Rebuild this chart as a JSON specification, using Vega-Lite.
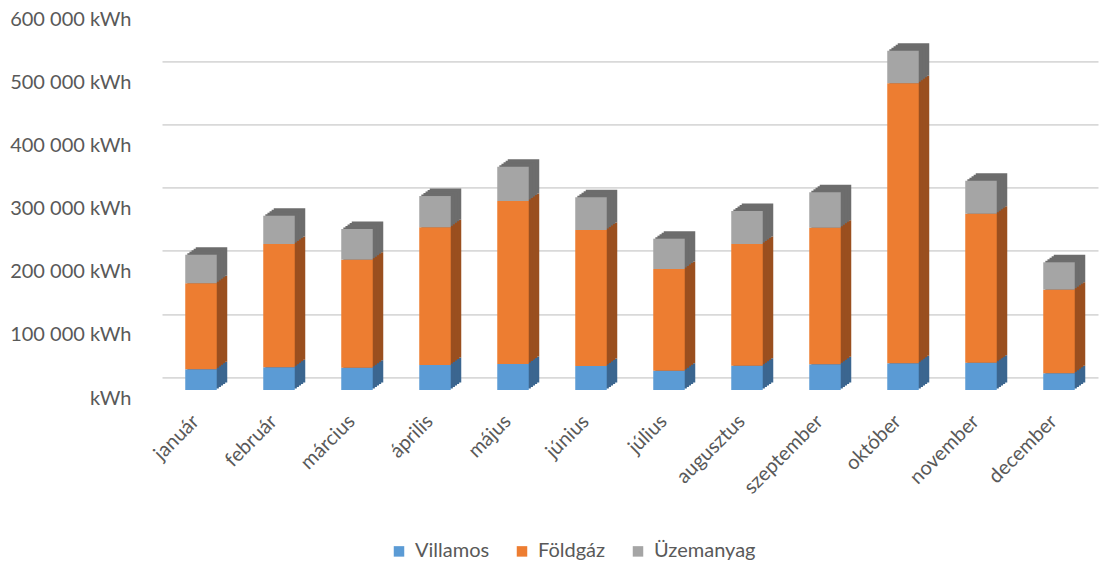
{
  "$schema": "https://vega.github.io/schema/vega-lite/v6.json",
  "autosize": "none",
  "width": 936,
  "height": 378.6,
  "padding": {"left": 162, "top": 11.4, "right": 12, "bottom": 178},
  "background": "white",
  "config": {
    "font": "Lato",
    "view": {"stroke": null},
    "axis": {"labelFont": "Lato", "labelColor": "#595959", "labelFontSize": 20}
  },
  "data": {
    "values": [
      {"month": "január", "type": "Villamos", "value": 32800},
      {"month": "január", "type": "Földgáz", "value": 136300},
      {"month": "január", "type": "Üzemanyag", "value": 45300},
      {"month": "február", "type": "Villamos", "value": 36000},
      {"month": "február", "type": "Földgáz", "value": 195400},
      {"month": "február", "type": "Üzemanyag", "value": 44800},
      {"month": "március", "type": "Villamos", "value": 35300},
      {"month": "március", "type": "Földgáz", "value": 171200},
      {"month": "március", "type": "Üzemanyag", "value": 48700},
      {"month": "április", "type": "Villamos", "value": 39600},
      {"month": "április", "type": "Földgáz", "value": 218200},
      {"month": "április", "type": "Üzemanyag", "value": 49600},
      {"month": "május", "type": "Villamos", "value": 41200},
      {"month": "május", "type": "Földgáz", "value": 258300},
      {"month": "május", "type": "Üzemanyag", "value": 54400},
      {"month": "június", "type": "Villamos", "value": 38000},
      {"month": "június", "type": "Földgáz", "value": 215600},
      {"month": "június", "type": "Üzemanyag", "value": 51800},
      {"month": "július", "type": "Villamos", "value": 30600},
      {"month": "július", "type": "Földgáz", "value": 161200},
      {"month": "július", "type": "Üzemanyag", "value": 48000},
      {"month": "augusztus", "type": "Villamos", "value": 38500},
      {"month": "augusztus", "type": "Földgáz", "value": 192900},
      {"month": "augusztus", "type": "Üzemanyag", "value": 52300},
      {"month": "szeptember", "type": "Villamos", "value": 40700},
      {"month": "szeptember", "type": "Földgáz", "value": 216500},
      {"month": "szeptember", "type": "Üzemanyag", "value": 56100},
      {"month": "október", "type": "Villamos", "value": 42300},
      {"month": "október", "type": "Földgáz", "value": 443800},
      {"month": "október", "type": "Üzemanyag", "value": 51600},
      {"month": "november", "type": "Villamos", "value": 43300},
      {"month": "november", "type": "Földgáz", "value": 236100},
      {"month": "november", "type": "Üzemanyag", "value": 52300},
      {"month": "december", "type": "Villamos", "value": 26500},
      {"month": "december", "type": "Földgáz", "value": 132500},
      {"month": "december", "type": "Üzemanyag", "value": 43400}
    ]
  },
  "transform": [
    {"calculate": "indexof(['Villamos','Földgáz','Üzemanyag'], datum.type)", "as": "ord"},
    {"stack": "value", "groupby": ["month"], "sort": [{"field": "ord", "order": "ascending"}], "as": ["v0", "v1"]}
  ],
  "encoding": {
    "x": {
      "field": "month", "type": "nominal",
      "sort": ["január","február","március","április","május","június","július","augusztus","szeptember","október","november","december"],
      "scale": {"paddingInner": 0, "paddingOuter": 0},
      "axis": {"title": null, "domain": false, "ticks": false, "labelAngle": -45, "labelAlign": "right", "labelBaseline": "middle", "labelPadding": 28, "labelOffset": -5}
    },
    "y": {
      "field": "v0", "type": "quantitative",
      "scale": {"domain": [0, 600000], "nice": false, "zero": true},
      "axis": {"title": null, "domain": false, "ticks": false, "values": [0,100000,200000,300000,400000,500000,600000],
        "labelExpr": "datum.value == 0 ? 'kWh' : (datum.value/1000) + ' 000 kWh'",
        "labelPadding": 31, "tickOffset": -13, "labelOffset": 21,
        "grid": true, "gridColor": "#d9d9d9", "gridWidth": 1.8}
    },
    "y2": {"field": "v1"}
  },
  "layer": [
    {"mark": {"type": "bar", "width": 31.5, "xOffset": 10.5, "yOffset": -7.5, "y2Offset": -7.5},
     "encoding": {"fill": {"condition": [{"test": "datum.type === 'Villamos'", "value": "#3b6690"}, {"test": "datum.type === 'Földgáz'", "value": "#9a4f1f"}], "value": "#6d6d6d"}}},
    {"mark": {"type": "bar", "width": 31.5, "xOffset": 8.4, "yOffset": -6, "y2Offset": -6},
     "encoding": {"fill": {"condition": [{"test": "datum.type === 'Villamos'", "value": "#3b6690"}, {"test": "datum.type === 'Földgáz'", "value": "#9a4f1f"}], "value": "#6d6d6d"}}},
    {"mark": {"type": "bar", "width": 31.5, "xOffset": 6.3, "yOffset": -4.5, "y2Offset": -4.5},
     "encoding": {"fill": {"condition": [{"test": "datum.type === 'Villamos'", "value": "#3b6690"}, {"test": "datum.type === 'Földgáz'", "value": "#9a4f1f"}], "value": "#6d6d6d"}}},
    {"mark": {"type": "bar", "width": 31.5, "xOffset": 4.2, "yOffset": -3, "y2Offset": -3},
     "encoding": {"fill": {"condition": [{"test": "datum.type === 'Villamos'", "value": "#3b6690"}, {"test": "datum.type === 'Földgáz'", "value": "#9a4f1f"}], "value": "#6d6d6d"}}},
    {"mark": {"type": "bar", "width": 31.5, "xOffset": 2.1, "yOffset": -1.5, "y2Offset": -1.5},
     "encoding": {"fill": {"condition": [{"test": "datum.type === 'Villamos'", "value": "#3b6690"}, {"test": "datum.type === 'Földgáz'", "value": "#9a4f1f"}], "value": "#6d6d6d"}}},
    {"mark": {"type": "bar", "width": 31.5},
     "encoding": {
       "color": {"field": "type", "type": "nominal",
         "scale": {"domain": ["Villamos", "Földgáz", "Üzemanyag"], "range": ["#5b9bd5", "#ed7d31", "#a5a5a5"]},
         "legend": {"title": null, "orient": "none", "legendX": 227, "legendY": 530, "direction": "horizontal",
           "symbolType": "square", "symbolSize": 110, "symbolStrokeWidth": 0, "labelFontSize": 20, "labelFont": "Lato",
           "labelColor": "#595959", "columnPadding": 22, "labelOffset": 6}}
     }}
  ]
}
